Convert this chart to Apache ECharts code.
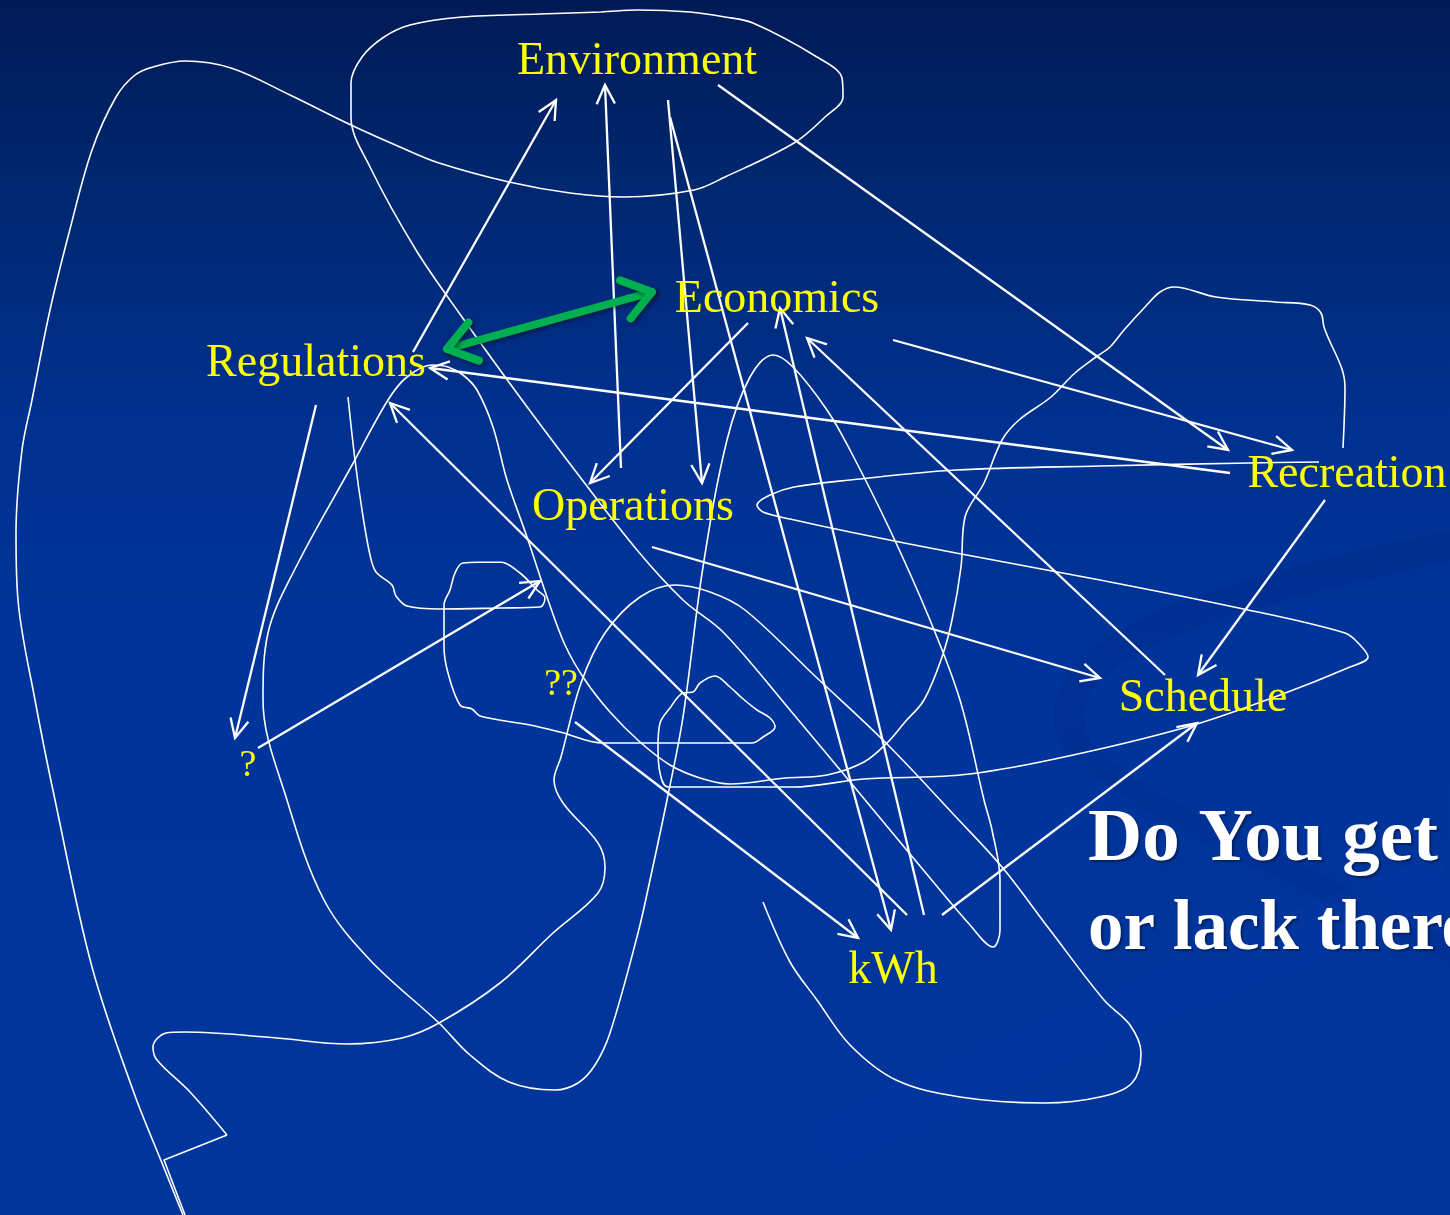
<!DOCTYPE html>
<html>
<head>
<meta charset="utf-8">
<script src="https://cdn.jsdelivr.net/npm/echarts@6/dist/echarts.min.js"></script>
<style>
html,body{margin:0;padding:0;background:#00329a;}
#chart{width:1450px;height:1215px;}
</style>
</head>
<body>
<div id="chart"></div>
<script>
// ---- data (pixel-space coordinates, y downward) ----
const nodeNames = ['Environment', 'Economics', 'Regulations', 'Operations', 'Recreation', 'Schedule', 'kWh'];
const nodeX     = [637, 777, 316, 633, 1347, 1203, 893];
const nodeY     = [62, 300, 364, 508, 475, 699, 971];

const qNames = ['??', '?'];
const qX     = [561, 248];
const qY     = [685, 766];

// white arrows: start (x,y) -> tip (x,y)
const arrowX1 = [413, 621, 668, 670, 718, 748, 893, 1230, 1325, 1165, 652, 316, 258, 575, 924, 907, 942];
const arrowY1 = [352, 468, 100, 117, 85, 323, 340, 473, 500, 675, 547, 405, 748, 722, 915, 915, 915];
const arrowX2 = [556, 605, 702, 891, 1228, 590, 1292, 430, 1198, 807, 1100, 235, 540, 858, 780, 390, 1197];
const arrowY2 = [100, 85, 483, 930, 450, 483, 450, 368, 675, 338, 678, 738, 581, 938, 308, 403, 723];

// green double-headed arrow (Regulations <-> Economics)
const greenArrow = [[447, 349], [652, 292]];

// freehand strokes
const strokeLongLoop = [
[183,1215],[162,1163],[134,1093],[92,967],[55,800],[35,700],[18,600],[16,533],[22,450],[32,400],[50,310],[69,233],[92,150],[116,97],[135,75],[153,67],[185,61],[231,68],[290,95],[351,125],[400,147],[439,163],[509,182],[570,193],[624,197],[694,190],[725,177],[794,143],[825,117],[843,97],[842,78],[817,57],[753,23],[725,17],[690,12],[638,10],[601,12],[540,14],[462,17],[410,25],[384,37],[362,57],[351,83],[351,117],[370,167],[416,250],[462,317],[522,400],[580,477],[637,550],[683,600],[724,633],[790,710],[851,783],[920,866],[970,925],[993,947],[1000,930],[1000,880],[992,830],[984,800],[960,700],[930,620],[890,530],[850,450],[827,410],[793,367],[773,355],[750,377],[727,440],[703,567],[683,717],[667,800],[650,880],[638,933],[610,1033],[595,1065],[578,1083],[555,1090],[509,1082],[470,1055],[439,1023],[370,960],[324,900],[287,800],[263,700],[268,633],[296,567],[351,467],[388,400],[407,377],[432,365],[448,367],[463,375],[477,390],[493,427],[507,480],[527,537],[547,597],[565,645],[585,680],[610,712],[640,742],[670,765],[700,778],[730,784],[785,778],[827,775],[864,762],[887,743],[905,722],[924,700],[942,657],[952,620],[961,567],[965,517],[984,483],[1002,440],[1019,420],[1051,397],[1075,373],[1096,357],[1110,347],[1124,330],[1145,307],[1160,292],[1174,287],[1216,297],[1275,302],[1310,305],[1321,313],[1324,327],[1345,387],[1343,448]
];
const strokeKwhLoop = [
[763,902],[790,962],[817,1000],[850,1045],[896,1080],[960,1097],[1044,1103],[1100,1097],[1132,1083],[1141,1053],[1130,1025],[1104,1000],[1050,930],[1002,867],[956,817],[886,743],[816,677],[745,610],[710,592],[675,585],[640,597],[605,633],[581,683],[561,757],[554,780],[563,803],[598,843],[605,867],[598,893],[553,933],[500,983],[439,1023],[402,1038],[347,1044],[277,1038],[185,1032],[166,1033],[153,1047],[157,1060],[190,1092],[227,1135]
];
const strokeZigzag = [[227,1135],[164,1160],[185,1215]];
const strokeBlob = [
[348,397],[355,460],[362,510],[370,555],[376,572],[392,585],[396,596],[407,606],[440,609],[500,608],[540,607],[545,598],[537,590],[520,573],[500,562],[463,563],[455,573],[450,590],[444,605],[444,647],[448,673],[460,705],[472,709],[480,716],[530,725],[560,732],[603,743],[680,743],[752,743],[763,737],[775,727],[770,718],[757,710],[742,698],[730,687],[715,676],[700,683],[693,692],[683,693],[670,708],[660,723],[658,747],[660,773],[668,787],[793,787],[864,779],[960,775],[1050,760],[1187,727],[1280,695],[1350,667],[1368,657],[1360,645],[1345,633],[1234,607],[1100,580],[956,553],[850,532],[790,519],[763,512],[757,505],[770,495],[794,487],[850,480],[956,470],[1100,466],[1250,463],[1319,462]
];

const titleLine1 = 'Do You get';
const titleLine2 = 'or lack thereof';

// ---- chart ----
const chart = echarts.init(document.getElementById('chart'), null, {renderer: 'canvas'});

const arrowData = arrowX1.map((x, i) => [x, arrowY1[i], arrowX2[i], arrowY2[i]]);

function arrowHead(tip, ang, L, a) {
  return [
    [tip[0] - L * Math.cos(ang - a), tip[1] - L * Math.sin(ang - a)],
    tip,
    [tip[0] - L * Math.cos(ang + a), tip[1] - L * Math.sin(ang + a)]
  ];
}

function renderArrow(params, api) {
  const p1 = api.coord([api.value(0), api.value(1)]);
  const p2 = api.coord([api.value(2), api.value(3)]);
  const ang = Math.atan2(p2[1] - p1[1], p2[0] - p1[0]);
  const st = {stroke: '#ffffff', lineWidth: 2.3, fill: null};
  return {
    type: 'group',
    children: [
      {type: 'line', shape: {x1: p1[0], y1: p1[1], x2: p2[0], y2: p2[1]}, style: st},
      {type: 'polyline', shape: {points: arrowHead(p2, ang, 21, 0.45)}, style: st}
    ]
  };
}

function renderGreen(params, api) {
  const p1 = api.coord([api.value(0), api.value(1)]);
  const p2 = api.coord([api.value(2), api.value(3)]);
  const ang = Math.atan2(p2[1] - p1[1], p2[0] - p1[0]);
  const st = {stroke: '#00b050', lineWidth: 8, fill: null, lineCap: 'round', lineJoin: 'round',
              shadowColor: 'rgba(0,0,0,0.45)', shadowBlur: 4, shadowOffsetX: 2, shadowOffsetY: 2};
  return {
    type: 'group',
    children: [
      {type: 'line', shape: {x1: p1[0], y1: p1[1], x2: p2[0], y2: p2[1]}, style: st},
      {type: 'polyline', shape: {points: arrowHead(p2, ang, 34, 0.62)}, style: st},
      {type: 'polyline', shape: {points: arrowHead(p1, ang + Math.PI, 34, 0.62)}, style: st}
    ]
  };
}

function strokeSeries(data, smooth) {
  return {
    type: 'line', data: data, smooth: smooth, showSymbol: false, symbol: 'none',
    lineStyle: {color: '#ffffff', width: 1.6}, silent: true, animation: false, z: 2
  };
}

const labelBase = {
  show: true, position: 'inside', formatter: '{b}', color: '#ffff00',
  fontFamily: 'Liberation Serif', textBorderWidth: 0, textBorderColor: 'transparent',
  textShadowBlur: 0, opacity: 1
};

const option = {
  animation: false,
  backgroundColor: {
    type: 'linear', x: 0, y: 0, x2: 0, y2: 1,
    colorStops: [
      {offset: 0, color: '#001a55'},
      {offset: 0.15, color: '#00276f'},
      {offset: 0.35, color: '#003190'},
      {offset: 0.55, color: '#00349a'},
      {offset: 1, color: '#00359c'}
    ]
  },
  graphic: [
    {type: 'bezierCurve', silent: true, z: 0,
     shape: {x1: 1450, y1: 545, cpx1: 1250, cpy1: 590, cpx2: 1030, cpy2: 640, x2: 1075, y2: 740},
     style: {stroke: 'rgba(0,32,120,0.18)', lineWidth: 30, fill: null, lineCap: 'round'}},
    {type: 'bezierCurve', silent: true, z: 0,
     shape: {x1: 1075, y1: 740, cpx1: 1120, cpy1: 800, cpx2: 1250, cpy2: 850, x2: 1450, y2: 950},
     style: {stroke: 'rgba(0,32,120,0.14)', lineWidth: 22, fill: null, lineCap: 'round'}},
    {type: 'bezierCurve', silent: true, z: 0,
     shape: {x1: 820, y1: 1150, cpx1: 1000, cpy1: 1060, cpx2: 1250, cpy2: 960, x2: 1450, y2: 880},
     style: {stroke: 'rgba(10,60,170,0.18)', lineWidth: 60, fill: null}}
  ],
  title: {
    text: '{a|' + titleLine1 + '}\n{b|' + titleLine2 + '}',
    left: 1088, top: 796, padding: 0,
    textStyle: {
      rich: {
        a: {color: '#ffffff', fontFamily: 'Liberation Serif', fontWeight: 'bold', fontSize: 75, lineHeight: 90,
            textShadowColor: 'rgba(0,0,0,0.35)', textShadowBlur: 2, textShadowOffsetX: 2, textShadowOffsetY: 2},
        b: {color: '#ffffff', fontFamily: 'Liberation Serif', fontWeight: 'bold', fontSize: 71, lineHeight: 90,
            textShadowColor: 'rgba(0,0,0,0.35)', textShadowBlur: 2, textShadowOffsetX: 2, textShadowOffsetY: 2}
      }
    }
  },
  grid: {left: 0, right: 0, top: 0, bottom: 0},
  xAxis: {type: 'value', min: 0, max: 1450, show: false},
  yAxis: {type: 'value', min: 0, max: 1215, inverse: true, show: false},
  series: [
    strokeSeries(strokeLongLoop, 0.35),
    strokeSeries(strokeKwhLoop, 0.35),
    strokeSeries(strokeZigzag, false),
    strokeSeries(strokeBlob, 0.35),
    {
      type: 'custom', renderItem: renderArrow, data: arrowData, z: 3,
      encode: {x: [0, 2], y: [1, 3]}, silent: true
    },
    {
      type: 'custom', renderItem: renderGreen, z: 4,
      data: [[greenArrow[0][0], greenArrow[0][1], greenArrow[1][0], greenArrow[1][1]]],
      encode: {x: [0, 2], y: [1, 3]}, silent: true
    },
    {
      type: 'scatter', symbolSize: 0, z: 5, silent: true,
      itemStyle: {color: '#ffff00', opacity: 1},
      data: nodeNames.map((n, i) => ({name: n, value: [nodeX[i], nodeY[i]]})),
      label: Object.assign({}, labelBase, {fontSize: 46})
    },
    {
      type: 'scatter', symbolSize: 0, z: 5, silent: true,
      itemStyle: {color: '#ffff00', opacity: 1},
      data: qNames.map((n, i) => ({name: n, value: [qX[i], qY[i]]})),
      label: Object.assign({}, labelBase, {fontSize: 38})
    }
  ]
};
chart.setOption(option);
</script>
</body>
</html>
